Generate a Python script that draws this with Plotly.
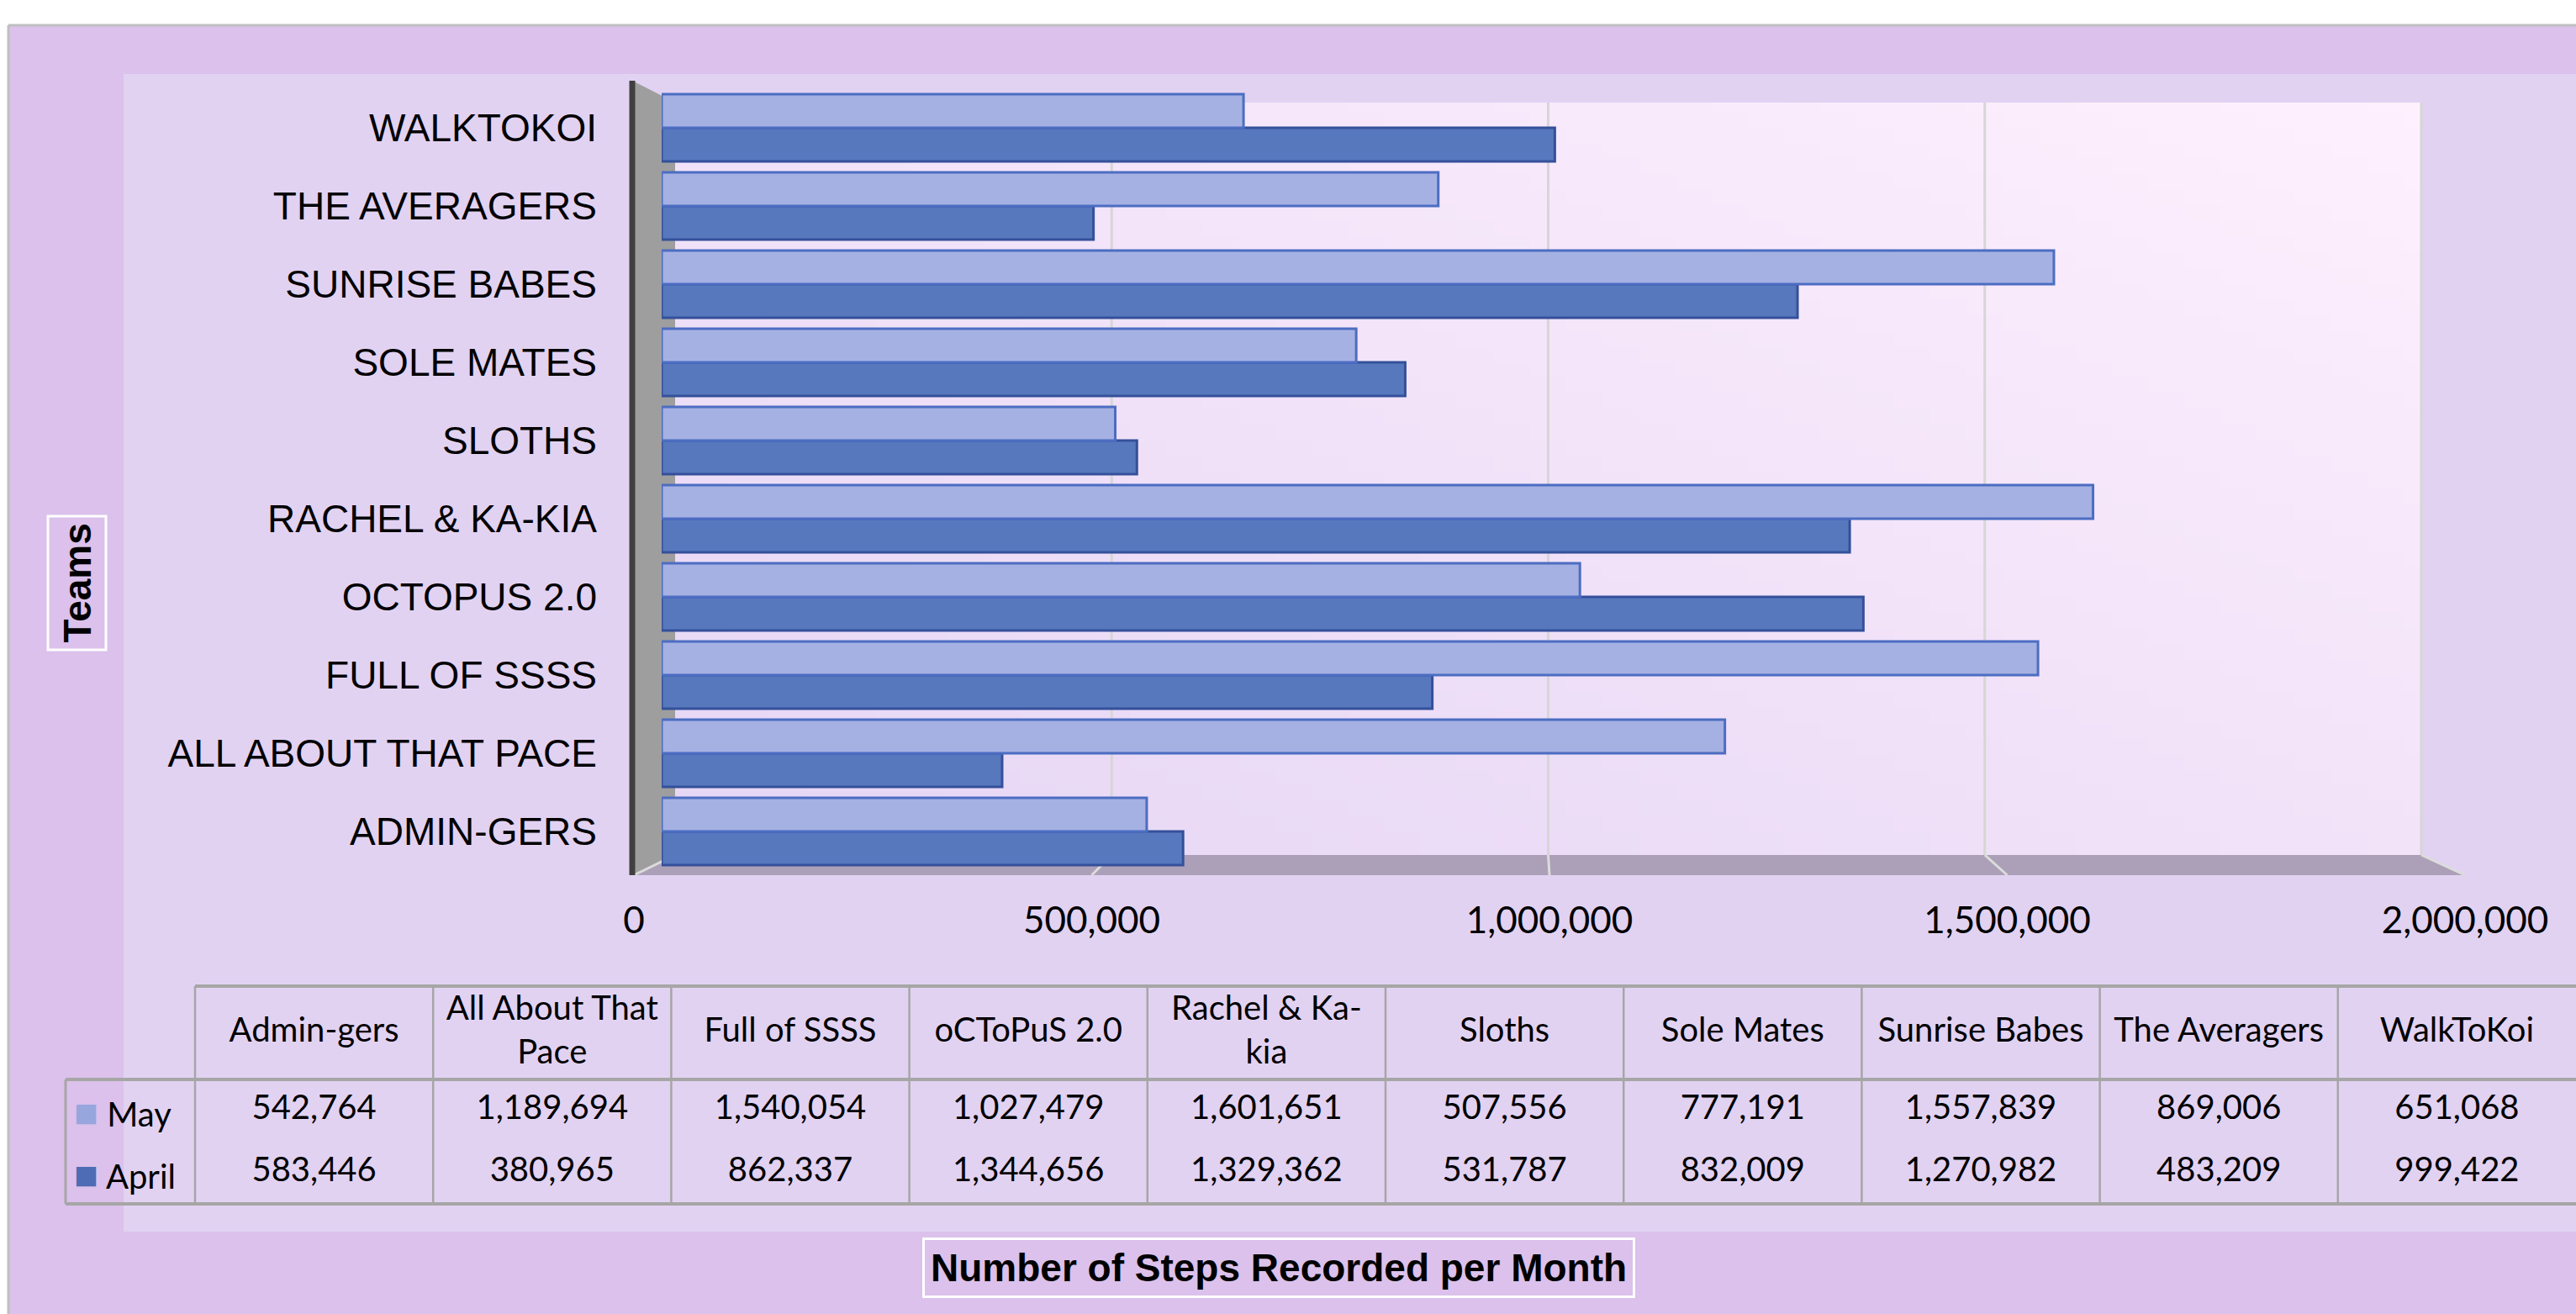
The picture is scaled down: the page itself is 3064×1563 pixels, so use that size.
import base64
import struct
import zlib
import plotly.graph_objects as go

W, H = 3064, 1563

# ---------------- data ----------------
teams = ["Admin-gers", "All About That Pace", "Full of SSSS", "oCToPuS 2.0", "Rachel & Ka-kia",
         "Sloths", "Sole Mates", "Sunrise Babes", "The Averagers", "WalkToKoi"]
team_labels = ["ADMIN-GERS", "ALL ABOUT THAT PACE", "FULL OF SSSS", "OCTOPUS 2.0", "RACHEL & KA-KIA",
               "SLOTHS", "SOLE MATES", "SUNRISE BABES", "THE AVERAGERS", "WALKTOKOI"]
header_labels = ["Admin-gers", "All About That<br>Pace", "Full of SSSS", "oCToPuS 2.0", "Rachel & Ka-<br>kia",
                 "Sloths", "Sole Mates", "Sunrise Babes", "The Averagers", "WalkToKoi"]
may = [542764, 1189694, 1540054, 1027479, 1601651, 507556, 777191, 1557839, 869006, 651068]
april = [583446, 380965, 862337, 1344656, 1329362, 531787, 832009, 1270982, 483209, 999422]
series_names = ["May", "April"]
x_ticks = [0, 500000, 1000000, 1500000, 2000000]
x_max = 2000000
y_title = "Teams"
x_title = "Number of Steps Recorded per Month"

# ---------------- styles ----------------
C_OUTER = "#DBC1EB"
C_INNER = "#E2D2F2"
C_MAY = "#A5B1E2"
C_MAY_LINE = "#4C6DC2"
C_APR = "#5878BE"
C_APR_LINE = "#34509A"
C_GRID = "#D6D6D6"
C_TABLE = "#A6A6A6"
ARIAL = "Liberation Sans, Arial, sans-serif"
CALI = "Lato, Open Sans, sans-serif"


def px(x):
    return x / W


def py(y):
    return 1 - y / H


def gradient_png(w, h, c_bl, c_tr):
    rows = []
    for j in range(h):
        v = 1 - j / (h - 1)
        row = bytearray([0])
        for i in range(w):
            u = i / (w - 1)
            t = (u + v) / 2
            row += bytes(int(round(a + (b - a) * t)) for a, b in zip(c_bl, c_tr))
        rows.append(bytes(row))
    raw = b"".join(rows)

    def chunk(tag, data):
        return (struct.pack(">I", len(data)) + tag + data
                + struct.pack(">I", zlib.crc32(tag + data) & 0xffffffff))

    png = (b"\x89PNG\r\n\x1a\n"
           + chunk(b"IHDR", struct.pack(">IIBBBBB", w, h, 8, 2, 0, 0, 0))
           + chunk(b"IDAT", zlib.compress(raw, 9))
           + chunk(b"IEND", b""))
    return "data:image/png;base64," + base64.b64encode(png).decode()


# geometry (pixels)
WALL_L, WALL_R, WALL_T, WALL_B = 803, 2880, 122, 1017
FRONT_L, FRONT_R, FRONT_Y = 754, 2932, 1041
AXIS_X, AXIS_T = 752, 96
BAR_L, BAR_R, BAR_T, BAR_B = 787, 2913, 105.5, 1035.5
TAB_L, COL0_R, COL_W = 78, 232, 283.2
HDR_T, HDR_B, ROW_H = 1173, 1284, 74


def wall_x(v):
    return WALL_L + v / x_max * (WALL_R - WALL_L)


def front_x(v):
    return FRONT_L + v / x_max * (FRONT_R - FRONT_L)


fig = go.Figure()

# bars (April first -> lower in each group)
fig.add_trace(go.Bar(y=team_labels, x=april, orientation="h", name=series_names[1],
                     marker=dict(color=C_APR, line=dict(color=C_APR_LINE, width=3)),
                     xaxis="x", yaxis="y", hoverinfo="skip"))
fig.add_trace(go.Bar(y=team_labels, x=may, orientation="h", name=series_names[0],
                     marker=dict(color=C_MAY, line=dict(color=C_MAY_LINE, width=3)),
                     xaxis="x", yaxis="y", hoverinfo="skip"))

# axis for front tick labels
fig.add_trace(go.Scatter(x=[], y=[], xaxis="x2", yaxis="y", hoverinfo="skip", showlegend=False))

# data table text
for name, vals in zip(series_names, [may, april]):
    fig.add_trace(go.Scatter(x=teams, y=[name] * len(teams), mode="text",
                             text=[f"{v:,}" for v in vals], textposition="middle center",
                             textfont=dict(family=CALI, size=40, color="black"),
                             xaxis="x3", yaxis="y3", cliponaxis=False, hoverinfo="skip"))
fig.add_trace(go.Scatter(x=teams, y=["header"] * len(teams), mode="text",
                         text=header_labels, textposition="middle center",
                         textfont=dict(family=CALI, size=40, color="black"),
                         xaxis="x3", yaxis="y4", cliponaxis=False, hoverinfo="skip"))

shapes = []
# white page margins and frame
shapes.append(dict(type="rect", xref="paper", yref="paper", x0=0, x1=1, y0=py(30), y1=1,
                   fillcolor="white", line_width=0, layer="below"))
shapes.append(dict(type="rect", xref="paper", yref="paper", x0=0, x1=px(10), y0=0, y1=1,
                   fillcolor="white", line_width=0, layer="below"))
for (a, b, c, d) in [(10, W, 30, 88), (10, 147, 88, 1465), (10, W, 1465, H)]:
    shapes.append(dict(type="rect", xref="paper", yref="paper", x0=px(a), x1=px(b), y0=py(d), y1=py(c),
                       fillcolor=C_OUTER, line_width=0, layer="below"))
shapes.append(dict(type="line", xref="paper", yref="paper", x0=px(10), x1=1, y0=py(30), y1=py(30),
                   line=dict(color="#BFBFBF", width=3), layer="below"))
shapes.append(dict(type="line", xref="paper", yref="paper", x0=px(10), x1=px(10), y0=0, y1=py(30),
                   line=dict(color="#BFBFBF", width=3), layer="below"))

# side wall and floor
shapes.append(dict(type="path", xref="paper", yref="paper",
                   path=f"M {px(AXIS_X)},{py(AXIS_T)} L {px(WALL_L)},{py(WALL_T)} L {px(WALL_L)},{py(WALL_B)} "
                        f"L {px(AXIS_X)},{py(FRONT_Y)} Z",
                   fillcolor="#9E9E9E", line_width=0, layer="below"))
shapes.append(dict(type="path", xref="paper", yref="paper",
                   path=f"M {px(AXIS_X)},{py(FRONT_Y)} L {px(WALL_L)},{py(WALL_B)} L {px(WALL_R)},{py(WALL_B)} "
                        f"L {px(FRONT_R)},{py(FRONT_Y)} Z",
                   fillcolor="#ACA0B8", line_width=0, layer="below"))
for v in x_ticks:
    if v > 0:
        shapes.append(dict(type="line", xref="paper", yref="paper", x0=px(wall_x(v)), x1=px(wall_x(v)),
                           y0=py(WALL_B), y1=py(WALL_T), line=dict(color=C_GRID, width=3), layer="below"))
    shapes.append(dict(type="line", xref="paper", yref="paper", x0=px(wall_x(v)), x1=px(front_x(v)),
                       y0=py(WALL_B), y1=py(FRONT_Y), line=dict(color="#DCDCDC", width=3), layer="below"))
# axis line
shapes.append(dict(type="line", xref="paper", yref="paper", x0=px(AXIS_X), x1=px(AXIS_X),
                   y0=py(FRONT_Y), y1=py(AXIS_T), line=dict(color="#404040", width=7), layer="below"))

# table grid
tab_r = COL0_R + COL_W * len(teams)
tab_b = HDR_B + ROW_H * len(series_names)
shapes.append(dict(type="line", xref="paper", yref="paper", x0=px(COL0_R), x1=px(tab_r),
                   y0=py(HDR_T), y1=py(HDR_T), line=dict(color=C_TABLE, width=4), layer="above"))
shapes.append(dict(type="line", xref="paper", yref="paper", x0=px(TAB_L), x1=px(tab_r),
                   y0=py(HDR_B), y1=py(HDR_B), line=dict(color=C_TABLE, width=4), layer="above"))
shapes.append(dict(type="line", xref="paper", yref="paper", x0=px(TAB_L), x1=px(tab_r),
                   y0=py(tab_b), y1=py(tab_b), line=dict(color=C_TABLE, width=4), layer="above"))
shapes.append(dict(type="line", xref="paper", yref="paper", x0=px(TAB_L), x1=px(TAB_L),
                   y0=py(tab_b), y1=py(HDR_B), line=dict(color=C_TABLE, width=3), layer="above"))
for k in range(len(teams)):
    xk = COL0_R + k * COL_W
    shapes.append(dict(type="line", xref="paper", yref="paper", x0=px(xk), x1=px(xk),
                       y0=py(tab_b), y1=py(HDR_T), line=dict(color=C_TABLE, width=2.5), layer="above"))

annotations = []
key_colors = ["#97A6DD", "#4E6CB5"]
row_order = ["April", "May"]
for name, kc in zip(series_names, key_colors):
    annotations.append(dict(xref="paper", yref="y3", x=px(86), y=row_order.index(name),
                            xanchor="left", yanchor="middle", showarrow=False,
                            text=f"<span style='color:{kc};font-size:48px'>■</span>\u00a0{name}",
                            font=dict(family=CALI, size=40, color="black")))
annotations.append(dict(xref="paper", yref="paper", x=px(91), y=py(693.5), textangle=-90,
                        showarrow=False, text=y_title, xanchor="center", yanchor="middle",
                        font=dict(family=ARIAL, size=46, color="black", weight="bold"),
                        bordercolor="white", borderwidth=3, borderpad=7))
annotations.append(dict(xref="paper", yref="paper", x=px(1521), y=py(1507.5),
                        showarrow=False, text=x_title, xanchor="center", yanchor="middle",
                        font=dict(family=ARIAL, size=46, color="black", weight="bold"),
                        bordercolor="white", borderwidth=3, borderpad=7))

images = [dict(source=gradient_png(48, 48, (230, 214, 245), (254, 240, 253)),
               xref="paper", yref="paper", x=px(WALL_L), y=py(WALL_T),
               sizex=px(WALL_R) - px(WALL_L), sizey=(WALL_B - WALL_T) / H,
               xanchor="left", yanchor="top", sizing="stretch", layer="below")]

fig.update_layout(
    width=W, height=H, margin=dict(l=0, r=0, t=0, b=0, pad=0, autoexpand=False),
    paper_bgcolor=C_INNER, plot_bgcolor="rgba(0,0,0,0)",
    showlegend=False, barmode="group", bargap=0.14, bargroupgap=0,
    shapes=shapes, annotations=annotations, images=images,
    xaxis=dict(domain=[px(BAR_L), px(BAR_R)], range=[0, x_max], visible=False, anchor="y",
               automargin=False),
    yaxis=dict(domain=[py(BAR_B), py(BAR_T)], type="category", categoryorder="array",
               categoryarray=team_labels, range=[-0.5, len(team_labels) - 0.5], anchor="x",
               showgrid=False, zeroline=False, showline=False, ticks="", automargin=False,
               tickfont=dict(family=ARIAL, size=46, color="black"), ticklabelstandoff=76),
    xaxis2=dict(domain=[px(FRONT_L), px(FRONT_R)], range=[0, x_max], anchor="free",
                position=py(FRONT_Y), tickvals=x_ticks, tickformat=",", showgrid=False,
                zeroline=False, showline=False, ticks="", automargin=False,
                tickfont=dict(family=CALI, size=44, color="black"), ticklabelstandoff=24),
    xaxis3=dict(domain=[px(COL0_R), px(tab_r)], type="category", categoryorder="array",
                categoryarray=teams, range=[-0.5, len(teams) - 0.5], visible=False, anchor="y3",
                automargin=False),
    yaxis3=dict(domain=[py(tab_b), py(HDR_B)], type="category", categoryorder="array",
                categoryarray=row_order, range=[-0.5, 1.5], visible=False, anchor="x3",
                automargin=False),
    yaxis4=dict(domain=[py(HDR_B), py(HDR_T)], type="category", categoryarray=["header"],
                categoryorder="array", range=[-0.5, 0.5], visible=False, anchor="x3",
                automargin=False),
)

fig.write_html("out.html", config={"displayModeBar": False},
               post_script="document.body.style.margin='0px';")
